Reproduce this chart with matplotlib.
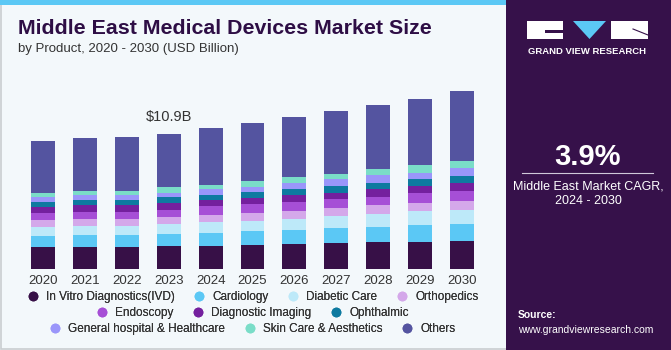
import matplotlib.pyplot as plt
import numpy as np
from matplotlib.patches import Rectangle, Polygon
from matplotlib.lines import Line2D
from matplotlib.colors import LinearSegmentedColormap

plt.rcParams["font.family"] = ["Liberation Sans", "DejaVu Sans"]

years = ["2020", "2021", "2022", "2023", "2024", "2025", "2026", "2027", "2028", "2029", "2030"]
segments = ["In Vitro Diagnostics(IVD)", "Cardiology", "Diabetic Care", "Orthopedics",
            "Endoscopy", "Diagnostic Imaging", "Ophthalmic",
            "General hospital & Healthcare", "Skin Care & Aesthetics", "Others"]

# USD billion
ivd        = [1.77, 1.77, 1.77, 1.88, 1.88, 1.96, 2.04, 2.12, 2.20, 2.20, 2.28]
cardiology = [0.91, 0.97, 0.99, 0.97, 1.05, 1.13, 1.13, 1.21, 1.21, 1.37, 1.37]
diabetic   = [0.70, 0.75, 0.73, 0.81, 0.89, 0.81, 0.89, 0.97, 1.05, 1.07, 1.13]
ortho      = [0.56, 0.54, 0.56, 0.56, 0.56, 0.64, 0.64, 0.64, 0.67, 0.70, 0.73]
endoscopy  = [0.56, 0.59, 0.56, 0.56, 0.67, 0.67, 0.73, 0.73, 0.70, 0.81, 0.81]
imaging    = [0.48, 0.54, 0.56, 0.56, 0.48, 0.51, 0.56, 0.48, 0.59, 0.56, 0.64]
ophthalmic = [0.46, 0.40, 0.40, 0.43, 0.43, 0.51, 0.48, 0.56, 0.54, 0.56, 0.56]
general    = [0.35, 0.40, 0.40, 0.38, 0.46, 0.40, 0.48, 0.51, 0.59, 0.48, 0.59]
skincare   = [0.30, 0.32, 0.32, 0.43, 0.35, 0.48, 0.48, 0.48, 0.48, 0.67, 0.64]
others     = [4.21, 4.25, 4.35, 4.33, 4.62, 4.70, 4.81, 5.05, 5.21, 5.32, 5.58]

colors = ["#371047", "#5BC8F5", "#BDE9F9", "#D4A8EA", "#A64FD6",
          "#74209E", "#0E7AA0", "#9A96FA", "#7ADDC8", "#5454A0"]

series = [ivd, cardiology, diabetic, ortho, endoscopy, imaging, ophthalmic, general, skincare, others]

fig = plt.figure(figsize=(6.71, 3.5), dpi=100)
fig.patch.set_facecolor("#F3F8FB")

lx = lambda px: px / 671
ly = lambda py: 1 - py / 350

# left panel frame + top strip
fig.patches.append(Rectangle((0.001, 0.004), 0.76, 0.994, transform=fig.transFigure,
                             facecolor="none", edgecolor="#C9CDD0", lw=1.2))
fig.patches.append(Rectangle((0, 0.986), 0.76, 0.014, transform=fig.transFigure,
                             facecolor="#5BC8F5", edgecolor="none"))

# right panel
rx = lx(506)
fig.patches.append(Rectangle((rx, 0), 1 - rx, 1, transform=fig.transFigure,
                             facecolor="#36114A", edgecolor="none"))
grad_ax = fig.add_axes([rx, 0, 1 - rx, 0.24])
grad = np.linspace(0, 1, 100).reshape(-1, 1)
cmap = LinearSegmentedColormap.from_list("g", ["#4A86BE", "#3A3470", "#36114A"])
grad_ax.imshow(grad, aspect="auto", cmap=cmap, origin="lower", extent=[0, 1, 0, 1])
grad_ax.axis("off")

# logo
fig.patches.append(Rectangle((lx(527), ly(39)), lx(36), 18 / 350, transform=fig.transFigure,
                             facecolor="white", edgecolor="none"))
fig.patches.append(Rectangle((lx(545), ly(33)), lx(18), 3 / 350, transform=fig.transFigure,
                             facecolor="#36114A", edgecolor="none"))
fig.patches.append(Polygon([(lx(573), ly(21)), (lx(606), ly(21)), (lx(589.5), ly(39))],
                           closed=True, transform=fig.transFigure, facecolor="#5BC8F5", edgecolor="none"))
fig.patches.append(Rectangle((lx(611), ly(39)), lx(37), 18 / 350, transform=fig.transFigure,
                             facecolor="white", edgecolor="none"))
fig.lines.append(Line2D([lx(633), lx(648)], [ly(29), ly(35)], transform=fig.transFigure,
                        color="#36114A", lw=0.8))
fig.text(lx(587.5), ly(51), "GRAND VIEW RESEARCH", color="white", fontsize=6.8,
         fontweight="bold", ha="center", va="center")

fig.text(lx(588), ly(157), "3.9%", color="white", fontsize=21, fontweight="bold",
         ha="center", va="center")
fig.lines.append(Line2D([lx(522), lx(653)], [ly(173), ly(173)], transform=fig.transFigure,
                        color="#D0C8DA", lw=0.8))
fig.text(lx(588), ly(186), "Middle East Market CAGR,", color="white", fontsize=9,
         ha="center", va="center")
fig.text(lx(588), ly(201), "2024 - 2030", color="white", fontsize=9,
         ha="center", va="center")
fig.text(lx(518), ly(315), "Source:", color="white", fontsize=7.5, fontweight="bold",
         ha="left", va="center")
fig.text(lx(518), ly(330), "www.grandviewresearch.com", color="white", fontsize=7.5,
         ha="left", va="center")

# titles
fig.text(lx(18), ly(29), "Middle East Medical Devices Market Size", color="#2E0E45",
         fontsize=15.4, fontweight="heavy", ha="left", va="center")
fig.text(lx(18), ly(49), "by Product, 2020 - 2030 (USD Billion)", color="#333333",
         fontsize=9.5, ha="left", va="center")

# chart
ax = fig.add_axes([lx(20), 81 / 350, lx(465), 186 / 350])
ax.set_facecolor("none")
x = np.arange(len(years))
bottom = np.zeros(len(years))
for vals, col, name in zip(series, colors, segments):
    ax.bar(x, vals, bottom=bottom, width=0.57, color=col, label=name,
           edgecolor="none")
    bottom += np.array(vals)

ax.set_xlim(-0.55, len(years) - 0.45)
ax.set_ylim(0, 15)
ax.set_xticks(x)
ax.set_xticklabels(years, fontsize=9.5, color="#333333")
ax.tick_params(axis="x", length=0, pad=4)
ax.set_yticks([])
for s in ax.spines.values():
    s.set_visible(False)

ax.annotate("$10.9B", xy=(3, bottom[3]), xytext=(0, 7), textcoords="offset points",
            ha="center", va="bottom", fontsize=10.5, color="#333333")

# legend in three rows
rows = [[0, 1, 2, 3], [4, 5, 6], [7, 8, 9]]
row_y = [297, 313, 329]
cx = lx((20 + 485) / 2)
for r, yy in zip(rows, row_y):
    handles = [Line2D([], [], marker="o", linestyle="none", markersize=7,
                      markerfacecolor=colors[i], markeredgecolor="none") for i in r]
    leg = fig.legend(handles, [segments[i] for i in r], loc="center",
                     bbox_to_anchor=(cx, ly(yy)), ncol=len(r), frameon=False,
                     fontsize=8.5, handlelength=1, handletextpad=0.6,
                     columnspacing=1.6, borderaxespad=0, borderpad=0)
    for t in leg.get_texts():
        t.set_color("#333333")
    fig.add_artist(leg)

fig.savefig("out.png", dpi=100, facecolor=fig.get_facecolor())
